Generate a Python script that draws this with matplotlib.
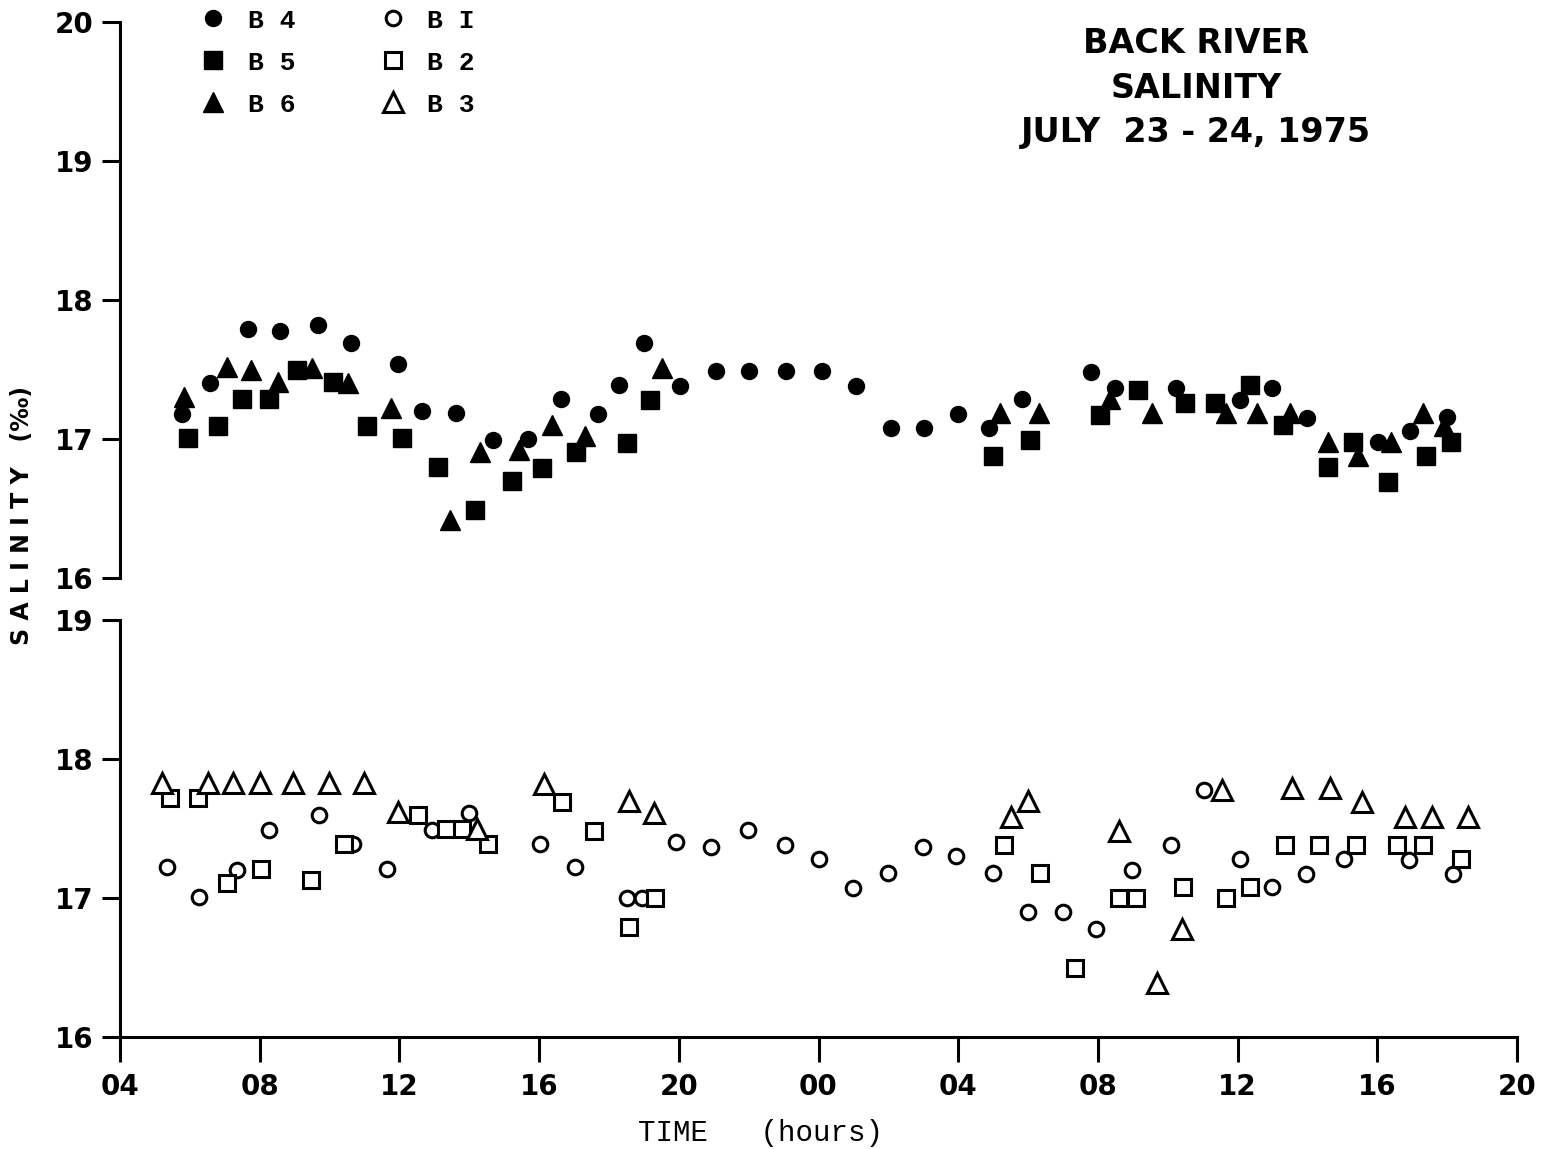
import matplotlib
matplotlib.use("Agg")
import matplotlib.pyplot as plt
import numpy as np

# time in hours from 00 on July 23 (04 .. 44)
b4_t = [5.77, 6.58, 7.66, 8.59, 9.67, 10.62, 11.95, 12.65, 13.62, 14.69, 15.67, 16.62,
        17.69, 18.29, 19.01, 20.03, 21.06, 22.02, 23.07, 24.09, 25.08, 26.08, 27.02,
        27.99, 28.87, 29.82, 31.79, 32.5, 34.24, 36.07, 36.98, 37.99, 40.02,
        40.94, 42.0]
b4_s = [17.18, 17.40, 17.79, 17.78, 17.82, 17.69, 17.54, 17.20, 17.19, 16.99, 17.00, 17.29,
        17.18, 17.39, 17.69, 17.38, 17.49, 17.49, 17.49, 17.49, 17.38, 17.08, 17.08,
        17.18, 17.08, 17.29, 17.48, 17.37, 17.37, 17.28, 17.37, 17.15, 16.98,
        17.06, 17.16]

b5_t = [5.96, 6.80, 7.48, 8.27, 9.06, 10.11, 11.06, 12.07, 13.11, 14.16, 15.23, 16.09,
        17.07, 18.53, 19.18, 29.0, 30.06, 32.06, 33.15, 34.5, 35.35, 36.35, 37.3,
        38.6, 39.3, 40.3, 41.4, 42.1]
b5_s = [17.01, 17.09, 17.29, 17.29, 17.50, 17.41, 17.09, 17.01, 16.80, 16.49, 16.70, 16.79,
        16.91, 16.97, 17.28, 16.88, 16.99, 17.17, 17.35, 17.26, 17.26, 17.39, 17.10,
        16.80, 16.98, 16.69, 16.88, 16.98]

b6_t = [5.83, 7.07, 7.75, 8.53, 9.51, 10.54, 11.75, 13.45, 14.31, 15.42, 16.37, 17.31,
        19.51, 29.2, 30.3, 32.35, 33.55, 35.67, 36.56, 37.5, 38.6, 39.45, 40.4,
        41.3, 41.9]
b6_s = [17.30, 17.52, 17.50, 17.41, 17.51, 17.40, 17.22, 16.42, 16.91, 16.92, 17.10, 17.02,
        17.51, 17.19, 17.19, 17.29, 17.19, 17.19, 17.19, 17.19, 16.98, 16.88, 16.98,
        17.19, 17.09]

b1_t = [5.34, 6.27, 7.34, 8.28, 9.70, 10.68, 11.64, 12.92, 14.0, 16.03, 17.03, 18.51,
        18.94, 19.91, 20.92, 21.99, 23.04, 24.01, 25.0, 26.0, 26.98, 27.93, 29.0,
        29.99, 30.99, 31.94, 32.99, 34.09, 35.04, 36.07, 36.98, 37.96, 39.05, 40.9,
        42.18]
b1_s = [17.22, 17.01, 17.20, 17.49, 17.60, 17.39, 17.21, 17.49, 17.61, 17.39, 17.22, 17.0,
        17.0, 17.40, 17.37, 17.49, 17.38, 17.28, 17.07, 17.18, 17.37, 17.30, 17.18,
        16.90, 16.90, 16.78, 17.20, 17.38, 17.78, 17.28, 17.08, 17.17, 17.28, 17.27,
        17.17]

b2_t = [5.43, 6.24, 7.05, 8.03, 9.47, 10.41, 12.54, 13.33, 13.78, 14.55, 16.67, 17.57,
        18.57, 19.32, 29.3, 30.35, 31.35, 32.6, 33.1, 34.43, 35.67, 36.36, 37.36,
        38.33, 39.4, 40.57, 41.3, 42.39]
b2_s = [17.72, 17.72, 17.11, 17.21, 17.13, 17.39, 17.60, 17.50, 17.50, 17.39, 17.69, 17.48,
        16.79, 17.0, 17.38, 17.18, 16.50, 17.0, 17.0, 17.08, 17.0, 17.08, 17.38,
        17.38, 17.38, 17.38, 17.38, 17.28]

b3_t = [5.19, 6.53, 7.23, 8.01, 8.94, 9.98, 10.99, 11.97, 14.21, 16.15, 18.56, 19.29,
        29.5, 30.0, 32.6, 33.68, 34.4, 35.55, 37.56, 38.64, 39.57, 40.8, 41.57, 42.6]
b3_s = [17.83, 17.83, 17.83, 17.83, 17.83, 17.83, 17.83, 17.62, 17.50, 17.82, 17.70, 17.61,
        17.58, 17.70, 17.48, 16.39, 16.78, 17.78, 17.79, 17.79, 17.69, 17.58, 17.58,
        17.58]

xticks = np.arange(4, 45, 4)
xlabels = ["04", "08", "12", "16", "20", "00", "04", "08", "12", "16", "20"]

W, H = 1543, 1149
fig = plt.figure(figsize=(W / 100, H / 100), dpi=100)
left, right = 120 / W, 1517 / W
ax1 = fig.add_axes([left, 1 - 578 / H, right - left, (578 - 22) / H])
ax2 = fig.add_axes([left, 1 - 1037 / H, right - left, (1037 - 620) / H])

num_font = dict(family="DejaVu Sans", weight="bold", size=20)

for ax in (ax1, ax2):
    ax.set_xlim(4, 44)
    for s in ("top", "right"):
        ax.spines[s].set_visible(False)
    ax.spines["left"].set_linewidth(2.2)
    ax.tick_params(axis="y", direction="out", length=13, width=2.2, pad=6)
    ax.set_facecolor("none")

ax1.set_ylim(16, 20)
ax1.spines["bottom"].set_visible(False)
ax1.set_xticks([])
ax1.set_yticks([16, 17, 18, 19, 20])
ax1.set_yticklabels(["16", "17", "18", "19", "20"], **num_font)

ax2.set_ylim(16, 19)
ax2.set_yticks([16, 17, 18, 19])
ax2.set_yticklabels(["16", "17", "18", "19"], **num_font)
ax2.spines["bottom"].set_linewidth(2.2)
ax2.set_xticks(xticks)
ax2.set_xticklabels(xlabels, **num_font)
ax2.tick_params(axis="x", direction="out", length=18, width=2.2, pad=8)

k = "black"
ax1.plot(b4_t, b4_s, "o", color=k, ms=11.5, ls="none", label="B 4", clip_on=False)
ax1.plot(b5_t, b5_s, "s", color=k, ms=12.5, ls="none", label="B 5", clip_on=False)
ax1.plot(b6_t, b6_s, "^", color=k, ms=15, ls="none", label="B 6", clip_on=False)
l1, = ax2.plot(b1_t, b1_s, "o", mfc="white", mec=k, mew=2.2, ms=10.5, ls="none", label="B I")
l2, = ax2.plot(b2_t, b2_s, "s", mfc="white", mec=k, mew=2.2, ms=12, ls="none", label="B 2")
l3, = ax2.plot(b3_t, b3_s, "^", mfc="white", mec=k, mew=2.2, ms=15, ls="none", label="B 3")

h, lab = ax1.get_legend_handles_labels()
leg = ax1.legend(h + [l1, l2, l3], lab + ["B I", "B 2", "B 3"], ncol=2,
                 loc="upper left", bbox_to_anchor=(80 / 1397, 1.024),
                 frameon=False, handlelength=1.0, handletextpad=0.8,
                 columnspacing=3.2, labelspacing=0.68, borderaxespad=0, borderpad=0,
                 prop=dict(family="Liberation Mono", weight="bold", size=19))

fig.text(1196 / W, 1 - 88 / H, "BACK RIVER\nSALINITY\nJULY  23 - 24, 1975",
         ha="center", va="center", fontsize=24, fontweight="bold",
         family="DejaVu Sans", linespacing=1.45)

fig.text(22 / W, 1 - 515 / H, "S A L I N I T Y   (‰)", rotation=90,
         ha="center", va="center", fontsize=17, fontweight="bold", family="DejaVu Sans")
fig.text(760 / W, 1 - 1133 / H, "TIME   (hours)", ha="center", va="center",
         fontsize=21, family="Liberation Mono")

fig.savefig("out.png", dpi=100, facecolor="white")
